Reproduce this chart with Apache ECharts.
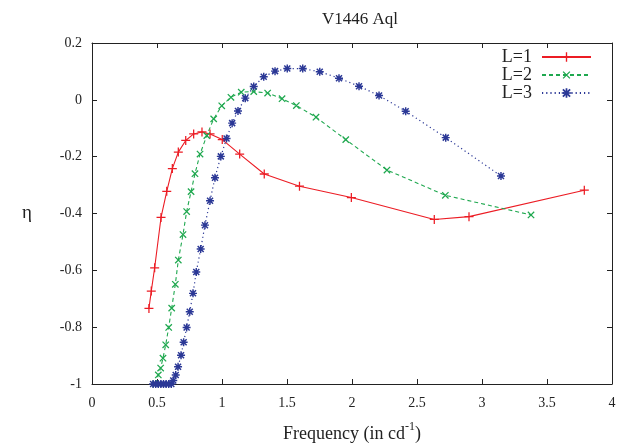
<!DOCTYPE html>
<html>
<head>
<meta charset="utf-8">
<script src="https://cdn.jsdelivr.net/npm/echarts@6/dist/echarts.min.js"></script>
<style>
html,body{margin:0;padding:0;background:#fff;}
#chart{width:634px;height:448px;}
</style>
</head>
<body>
<div id="chart"></div>
<script>
var titleText = 'V1446 Aql';
var seriesNames = ['L=1', 'L=2', 'L=3'];
var xTicks = {min: 0, max: 4, interval: 0.5};
var yTicks = {min: -1, max: 0.2, interval: 0.2};

var l1Freq = [0.438, 0.456, 0.482, 0.531, 0.575, 0.618, 0.664, 0.721, 0.782, 0.846, 0.908, 1.002, 1.136, 1.325, 1.596, 1.995, 2.633, 2.90, 3.787];
var l1Eta  = [-0.734, -0.673, -0.591, -0.414, -0.322, -0.242, -0.184, -0.143, -0.120, -0.113, -0.120, -0.140, -0.191, -0.261, -0.304, -0.344, -0.421, -0.411, -0.318];

var l2Freq = [0.49, 0.51, 0.528, 0.546, 0.567, 0.590, 0.613, 0.641, 0.664, 0.700, 0.728, 0.762, 0.792, 0.831, 0.883, 0.936, 0.998, 1.069, 1.148, 1.244, 1.351, 1.462, 1.572, 1.723, 1.952, 2.269, 2.718, 3.377];
var l2Eta  = [-1.0, -0.968, -0.944, -0.909, -0.862, -0.801, -0.733, -0.649, -0.564, -0.474, -0.393, -0.323, -0.260, -0.191, -0.126, -0.067, -0.021, 0.009, 0.027, 0.029, 0.024, 0.004, -0.020, -0.061, -0.140, -0.247, -0.336, -0.405];

var l3Freq = [0.47, 0.49, 0.51, 0.53, 0.55, 0.57, 0.59, 0.61, 0.625, 0.644, 0.662, 0.685, 0.705, 0.728, 0.752, 0.777, 0.802, 0.836, 0.869, 0.908, 0.946, 0.991, 1.035, 1.078, 1.123, 1.179, 1.244, 1.321, 1.408, 1.502, 1.621, 1.752, 1.900, 2.054, 2.208, 2.413, 2.721, 3.146];
var l3Eta  = [-1.0, -1.0, -1.0, -1.0, -1.0, -1.0, -1.0, -1.0, -0.988, -0.968, -0.939, -0.899, -0.853, -0.801, -0.746, -0.681, -0.606, -0.525, -0.441, -0.355, -0.274, -0.199, -0.136, -0.082, -0.039, 0.006, 0.047, 0.081, 0.101, 0.110, 0.110, 0.099, 0.076, 0.048, 0.015, -0.040, -0.133, -0.268];

function pairs(xs, ys) { return xs.map(function (x, i) { return [x, ys[i]]; }); }

var plusPath = 'path://M4.3,0h1.4v10h-1.4z M0,4.3h10v1.4h-10z';
var starPath = 'path://M4.1,0h1.8v10h-1.8z M0,4.1h10v1.8h-10z M0.6,1.9L1.9,0.6L9.4,8.1L8.1,9.4z M8.1,0.6L9.4,1.9L1.9,9.4L0.6,8.1z';

var serif = '"Liberation Serif", "DejaVu Serif", serif';
var colors = ['#ec1c24', '#1fa84f', '#2b3896'];

var chart = echarts.init(document.getElementById('chart'), null, {renderer: 'canvas'});

var axisCommon = {
  axisLine: {show: true, onZero: false, lineStyle: {color: '#222', width: 1}},
  axisTick: {show: true, inside: true, length: 5, lineStyle: {color: '#222', width: 1}},
  splitLine: {show: false}
};

chart.setOption({
  animation: false,
  backgroundColor: '#fff',
  title: {
    text: titleText, left: 355, top: 6, textAlign: 'center',
    textStyle: {fontFamily: serif, fontSize: 17, fontWeight: 'normal', color: '#222'}
  },
  grid: {left: 92, right: 22, top: 43, bottom: 63},
  legend: {
    orient: 'vertical', right: 42, top: 48, align: 'right', padding: 0,
    itemWidth: 49, itemHeight: 12, itemGap: 0,
    textStyle: {fontFamily: serif, fontSize: 18, lineHeight: 18, color: '#222', padding: [0, 5, 0, 0]},
    data: seriesNames
  },
  xAxis: [
    Object.assign({
      type: 'value', min: xTicks.min, max: xTicks.max, interval: xTicks.interval, position: 'bottom',
      name: '{a|Frequency (in cd}{s|-1}{a|)}', nameLocation: 'middle', nameGap: 37,
      nameTextStyle: {
        rich: {
          a: {fontFamily: serif, fontSize: 18, color: '#222', lineHeight: 22, verticalAlign: 'bottom'},
          s: {fontFamily: serif, fontSize: 12, color: '#222', lineHeight: 12, verticalAlign: 'top'}
        }
      },
      axisLabel: {fontFamily: serif, fontSize: 14, color: '#222', margin: 12}
    }, axisCommon),
    Object.assign({
      type: 'value', min: xTicks.min, max: xTicks.max, interval: xTicks.interval, position: 'top',
      axisLabel: {show: false}
    }, axisCommon)
  ],
  yAxis: [
    Object.assign({
      type: 'value', min: yTicks.min, max: yTicks.max, interval: yTicks.interval, position: 'left',
      name: 'η', nameLocation: 'middle', nameGap: 60, nameRotate: 0,
      nameTextStyle: {fontFamily: serif, fontSize: 19, color: '#222'},
      axisLabel: {fontFamily: serif, fontSize: 14, color: '#222', margin: 10}
    }, axisCommon),
    Object.assign({
      type: 'value', min: yTicks.min, max: yTicks.max, interval: yTicks.interval, position: 'right',
      axisLabel: {show: false}
    }, axisCommon)
  ],
  series: [
    {
      name: seriesNames[0], type: 'line', data: pairs(l1Freq, l1Eta),
      symbol: plusPath, symbolSize: 9, showAllSymbol: true,
      lineStyle: {color: colors[0], width: 1.1, type: 'solid'},
      itemStyle: {color: colors[0]}
    },
    {
      name: seriesNames[1], type: 'line', data: pairs(l2Freq, l2Eta),
      symbol: plusPath, symbolRotate: 45, symbolSize: 9, showAllSymbol: true,
      lineStyle: {color: colors[1], width: 1.1, type: [4, 3]},
      itemStyle: {color: colors[1]}
    },
    {
      name: seriesNames[2], type: 'line', data: pairs(l3Freq, l3Eta),
      symbol: starPath, symbolSize: 8, showAllSymbol: true,
      lineStyle: {color: colors[2], width: 1.2, type: [1.2, 3]},
      itemStyle: {color: colors[2]}
    }
  ]
});
</script>
</body>
</html>
